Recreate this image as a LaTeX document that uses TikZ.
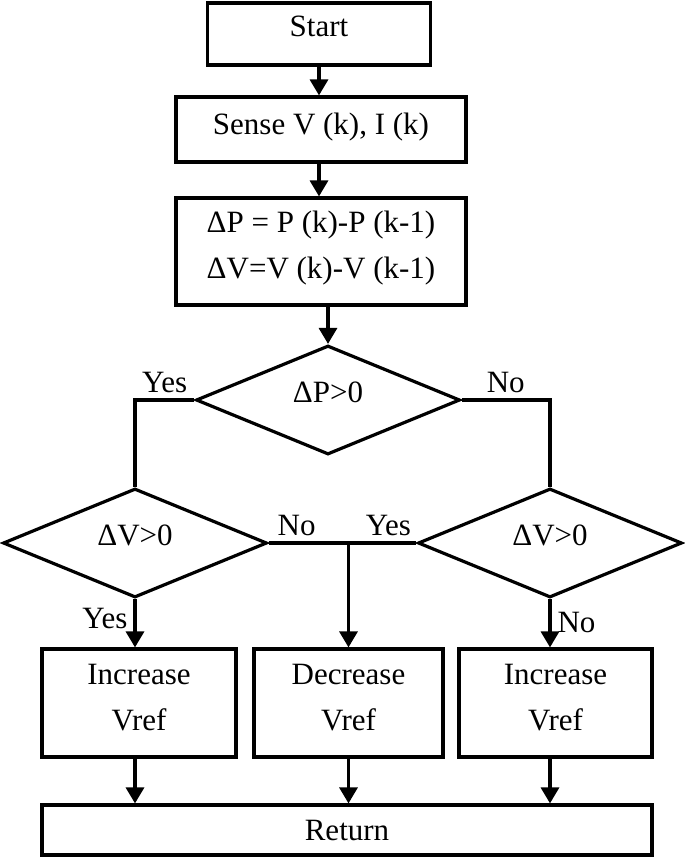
\documentclass[tikz,border=0pt]{standalone}
\usepackage{fontspec}
\setmainfont{Liberation Serif}
\usetikzlibrary{shapes.geometric,arrows.meta}
\newcommand{\up}[2][4pt]{\raisebox{#1}[\height][\depth]{#2}}
\newcommand{\twolines}[2]{\up[1.5pt]{\begin{tabular}{@{}c@{}}#1\\[5pt]#2\end{tabular}}}
\begin{document}
\begin{tikzpicture}[x=0.5pt,y=-0.5pt,
  every node/.style={font=\fontsize{15.5}{18}\selectfont},
  box/.style={draw, line width=1.6pt, inner sep=0pt},
  test/.style={draw, diamond, line width=1.6pt, inner sep=0pt, minimum width=132pt, minimum height=54.5pt},
  ln/.style={line width=1.6pt},
  arr/.style={line width=1.6pt, -{Triangle[length=8pt,width=9pt]}},
  lab/.style={inner sep=1pt}]
\useasboundingbox (0,0) rectangle (685,858);
% boxes
\node[box, minimum width=111.5pt, minimum height=31pt] (start) at (319,34) {\up{Start}};
\node[box, minimum width=145pt, minimum height=32.5pt] (sense) at (321,129.5) {\up[1pt]{Sense V (k), I (k)}};
\node[box, minimum width=145pt, minimum height=53.5pt] (delta) at (321,251.5) {\twolines{ΔP = P (k)-P (k-1)}{ΔV=V (k)-V (k-1)}};
% decisions
\node[test] (dp) at (328,400) {\up{ΔP>0}};
\node[test] (dvl) at (135,543) {\up{ΔV>0}};
\node[test] (dvr) at (550,543) {\up{ΔV>0}};
% actions
\node[box, minimum width=97pt, minimum height=54pt] (incl) at (139,703) {\twolines{Increase}{Vref}};
\node[box, minimum width=94.5pt, minimum height=54pt] (decr) at (348.5,703) {\twolines{Decrease}{Vref}};
\node[box, minimum width=96.5pt, minimum height=54pt] (incr) at (555.5,703) {\twolines{Increase}{Vref}};
\node[box, minimum width=305pt, minimum height=25pt] (ret) at (347,830) {Return};
% connectors
\draw[arr] (start.south) -- (start.south |- sense.north);
\draw[arr] (start.south |- sense.south) -- (start.south |- delta.north);
\draw[arr] (dp.north |- delta.south) -- (dp.north);
\draw[ln] (dp.west) -| node[pos=0.25, above=2pt, lab] {Yes} (dvl.north);
\draw[ln] (dp.east) -| node[pos=0.25, above=2pt, lab] {No} (dvr.north);
\draw[ln] (dvl.east) -- node[pos=0.19, above=2pt, lab] {No} node[pos=0.81, above=2pt, lab] {Yes} (dvr.west);
\draw[arr] (dvl.east -| decr.north) -- (decr.north);
\draw[arr] (dvl.south) -- node[pos=0.4, left=2pt, lab] {Yes} (dvl.south |- incl.north);
\draw[arr] (dvr.south) -- node[pos=0.48, right=2pt, lab] {No} (dvr.south |- incr.north);
\draw[arr] (dvl.south |- incl.south) -- (dvl.south |- ret.north);
\draw[arr] (decr.south) -- (decr.south |- ret.north);
\draw[arr] (dvr.south |- incr.south) -- (dvr.south |- ret.north);
\end{tikzpicture}
\end{document}
